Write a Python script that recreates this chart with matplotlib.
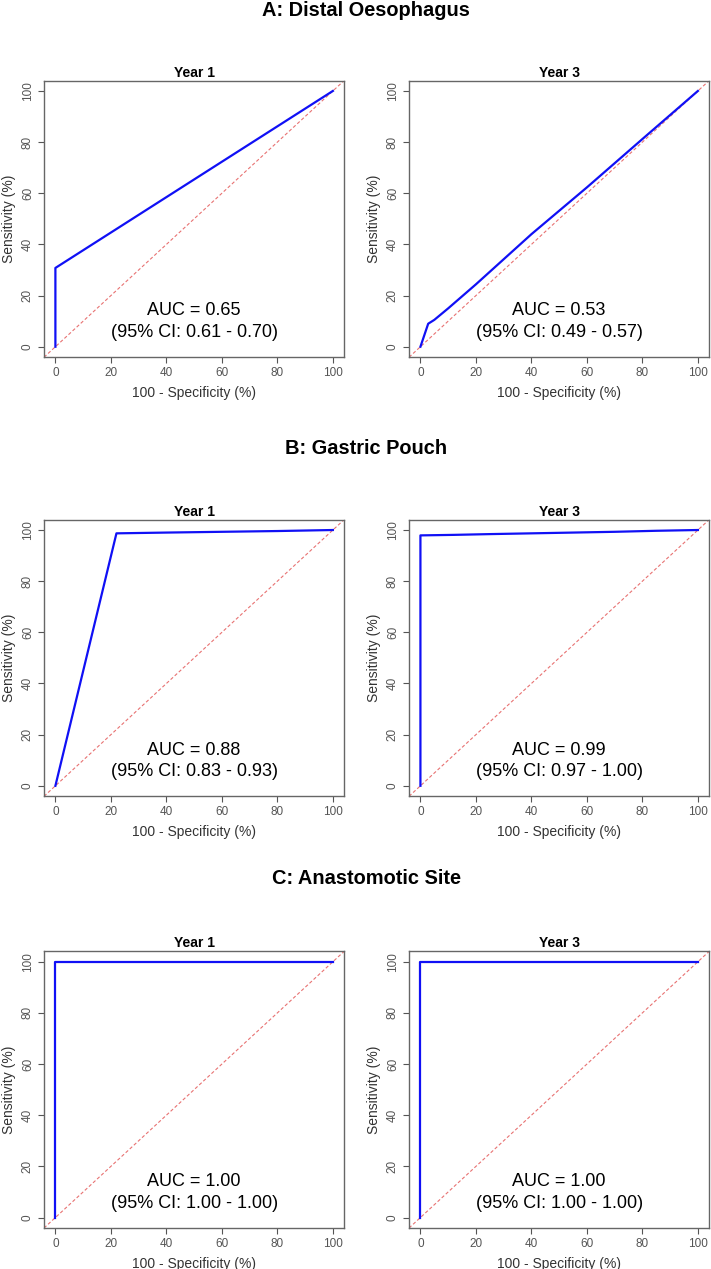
import matplotlib
matplotlib.use("Agg")
import matplotlib.pyplot as plt

plt.rcParams['font.family'] = ['Liberation Sans', 'DejaVu Sans']

# section titles and panel titles
sections = ["A: Distal Oesophagus", "B: Gastric Pouch", "C: Anastomotic Site"]
years = ["Year 1", "Year 3"]

# ROC curves (100 - specificity, sensitivity)
a1_fpr = [0, 0, 100]
a1_tpr = [0, 30.8, 100]
a3_fpr = [0, 2.8, 5, 10, 20, 40, 60, 80, 100]
a3_tpr = [0, 9, 10.5, 15, 24.4, 44, 62.3, 81.2, 100]
b1_fpr = [0, 22, 40, 60, 80, 100]
b1_tpr = [0, 98.7, 99.0, 99.3, 99.6, 100]
b3_fpr = [0, 0, 12, 25, 40, 55, 70, 85, 100]
b3_tpr = [0, 97.9, 98.1, 98.4, 98.7, 99.0, 99.3, 99.7, 100]
c1_fpr = [0, 0, 100]
c1_tpr = [0, 100, 100]
c3_fpr = [0, 0, 100]
c3_tpr = [0, 100, 100]

curves = [[(a1_fpr, a1_tpr), (a3_fpr, a3_tpr)],
          [(b1_fpr, b1_tpr), (b3_fpr, b3_tpr)],
          [(c1_fpr, c1_tpr), (c3_fpr, c3_tpr)]]

auc = [["0.65", "0.53"], ["0.88", "0.99"], ["1.00", "1.00"]]
ci = [["0.61 - 0.70", "0.49 - 0.57"],
      ["0.83 - 0.93", "0.97 - 1.00"],
      ["1.00 - 1.00", "1.00 - 1.00"]]

ticks = [0, 20, 40, 60, 80, 100]

fig = plt.figure(figsize=(7.11, 12.69), dpi=100)

col_left = [0.0623, 0.5757]
row_bottom = [0.7187, 0.3727, 0.0325]
sec_baseline_px = [15.5, 453.5, 884.5]
w, h = 0.4215, 0.2177
grey = "#555555"

for r in range(3):
    fig.text(366 / 711, 1 - sec_baseline_px[r] / 1269, sections[r], ha="center",
             va="baseline", fontsize=14.4, fontweight="bold")
    for c in range(2):
        ax = fig.add_axes([col_left[c], row_bottom[r], w, h])
        fpr, tpr = curves[r][c]
        ax.plot([-10, 110], [-10, 110], color="#e87272", lw=0.8,
                linestyle=(0, (3, 2)), zorder=1)
        ax.plot(fpr, tpr, color="#1010f5", lw=1.6, zorder=2)
        ax.set_xlim(-4, 104)
        ax.set_ylim(-4, 104)
        ax.set_xticks(ticks)
        ax.set_yticks(ticks)
        ax.tick_params(colors=grey, labelsize=8.5, length=4, width=0.8)
        for lab in ax.get_yticklabels():
            lab.set_rotation(90)
            lab.set_va("center")
        for s in ax.spines.values():
            s.set_color("#666666")
            s.set_linewidth(1)
        ax.set_title(years[c], fontsize=10, fontweight="bold", pad=3)
        ax.set_xlabel("100 - Specificity (%)", fontsize=10, color="#333333", labelpad=5)
        ax.set_ylabel("Sensitivity (%)", fontsize=10, color="#333333", labelpad=4)
        ax.text(50, 14, "AUC = " + auc[r][c], ha="center", va="center", fontsize=13)
        ax.text(50, 5.6, "(95% CI: " + ci[r][c] + ")", ha="center", va="center", fontsize=13)

fig.savefig("out.png", dpi=100)
